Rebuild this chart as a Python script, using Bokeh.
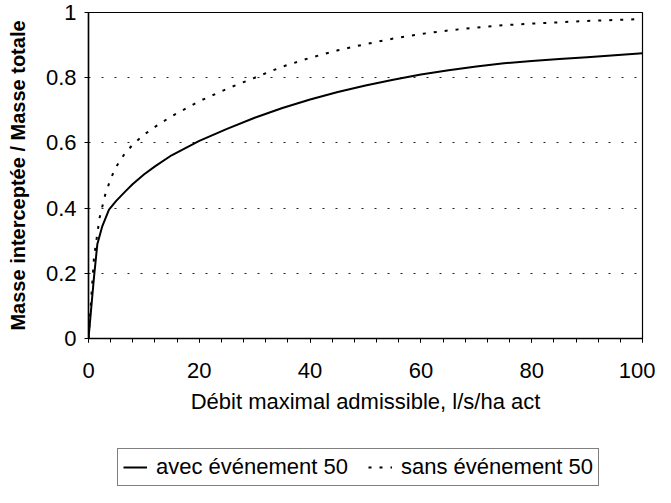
from bokeh.plotting import figure
from bokeh.layouts import column
from bokeh.models import Range1d, FixedTicker, Legend, LegendItem
from bokeh.embed import file_html
from bokeh.resources import INLINE

# Data
debit_avec = [0, 1, 1.6, 2.5, 3.7, 5, 6.7, 8, 10, 12, 15, 20, 25, 30, 35, 40, 45, 50,
              55, 60, 65, 70, 75, 80, 85, 90, 95, 100]
masse_avec = [0, 0.19, 0.29, 0.345, 0.395, 0.422, 0.452, 0.474, 0.503, 0.528, 0.562,
              0.606, 0.643, 0.677, 0.707, 0.733, 0.756, 0.776, 0.794, 0.81, 0.823,
              0.834, 0.844, 0.851, 0.857, 0.863, 0.869, 0.875]

debit_sans = [0, 1, 2, 3, 4, 5, 6.5, 8, 10, 12, 15, 20, 25, 30, 35, 40, 45, 50, 55,
              60, 65, 70, 75, 80, 85, 90, 95, 100]
masse_sans = [0, 0.25, 0.37, 0.44, 0.49, 0.527, 0.566, 0.595, 0.625, 0.649, 0.682,
              0.728, 0.766, 0.8, 0.834, 0.861, 0.884, 0.903, 0.92, 0.934, 0.945,
              0.954, 0.961, 0.966, 0.97, 0.974, 0.977, 0.98]

x_ticks = [0, 20, 40, 60, 80, 100]
y_ticks = [0, 0.2, 0.4, 0.6, 0.8, 1]
y_tick_labels = ["0", "0.2", "0.4", "0.6", "0.8", "1"]
series_labels = ["avec événement 50", "sans événement 50"]
x_title = "Débit maximal admissible, l/s/ha act"
y_title = "Masse interceptée / Masse totale"

FONT = "Liberation Sans"
SOLID = dict(line_color="black", line_width=2)
DOTTED = dict(line_color="black", line_width=2, line_dash="3 8")

p = figure(width=655, height=440, x_range=Range1d(0, 100), y_range=Range1d(0, 1),
           output_backend="svg", toolbar_location=None,
           min_border_left=88, min_border_right=13, min_border_top=12,
           min_border_bottom=102)

p.background_fill_color = "white"
p.border_fill_color = "white"
p.outline_line_color = "black"
p.outline_line_width = 1.2

# grids
p.xgrid.visible = False
p.ygrid.ticker = FixedTicker(ticks=y_ticks[1:-1])
p.ygrid.grid_line_color = "#222222"
p.ygrid.grid_line_width = 1
p.ygrid.grid_line_dash = "2 11"

# x axis
xa = p.xaxis[0]
xa.ticker = FixedTicker(ticks=x_ticks, minor_ticks=list(range(0, 101, 4)))
xa.axis_label = x_title
xa.axis_label_text_font = FONT
xa.axis_label_text_font_size = "22px"
xa.axis_label_text_font_style = "normal"
xa.axis_label_text_color = "black"
xa.axis_label_standoff = 8
xa.major_label_text_font = FONT
xa.major_label_text_font_size = "22px"
xa.major_label_text_color = "black"
xa.major_label_standoff = 20
xa.axis_line_color = "black"
xa.axis_line_width = 1.5
xa.major_tick_in = 0
xa.major_tick_out = 4
xa.minor_tick_in = 0
xa.minor_tick_out = 4
xa.major_tick_line_color = "black"
xa.minor_tick_line_color = "black"

# y axis
ya = p.yaxis[0]
ya.ticker = FixedTicker(ticks=y_ticks)
ya.major_label_overrides = {t: l for t, l in zip(y_ticks, y_tick_labels)}
ya.axis_label = y_title
ya.axis_label_text_font = FONT
ya.axis_label_text_font_size = "20px"
ya.axis_label_text_font_style = "bold"
ya.axis_label_text_color = "black"
ya.axis_label_standoff = 14
ya.major_label_text_font = FONT
ya.major_label_text_font_size = "22px"
ya.major_label_text_color = "black"
ya.major_label_standoff = 8
ya.axis_line_color = "black"
ya.axis_line_width = 1.5
ya.major_tick_in = 0
ya.major_tick_out = 4
ya.minor_tick_line_color = None
ya.major_tick_line_color = "black"

p.line(debit_avec, masse_avec, **SOLID)
p.line(debit_sans, masse_sans, **DOTTED)

# legend strip below the chart
lf = figure(width=655, height=47, x_range=Range1d(0, 100), y_range=Range1d(0, 1),
            output_backend="svg", toolbar_location=None,
            x_axis_location=None, y_axis_location=None,
            min_border_left=0, min_border_right=0, min_border_top=0,
            min_border_bottom=0)
lf.outline_line_color = None
lf.grid.visible = False
lf.background_fill_color = "white"
lf.border_fill_color = "white"
lr1 = lf.line(debit_avec, masse_avec, visible=False, **SOLID)
lr2 = lf.line(debit_sans, masse_sans, visible=False, **DOTTED)

legend = Legend(items=[LegendItem(label=series_labels[0], renderers=[lr1]),
                       LegendItem(label=series_labels[1], renderers=[lr2])],
                orientation="horizontal", location=(29, 1))
legend.click_policy = "none"
legend.label_text_font = FONT
legend.label_text_font_size = "22px"
legend.label_text_color = "black"
legend.border_line_color = "black"
legend.border_line_width = 1
legend.background_fill_color = "white"
legend.background_fill_alpha = 1
legend.padding = 5
legend.spacing = 20
legend.glyph_width = 24
legend.glyph_height = 20
legend.label_height = 20
legend.label_standoff = 9
legend.margin = 0
lf.add_layout(legend, "center")

layout = column(p, lf, spacing=0)
open("out.html", "w").write(file_html(layout, INLINE))
